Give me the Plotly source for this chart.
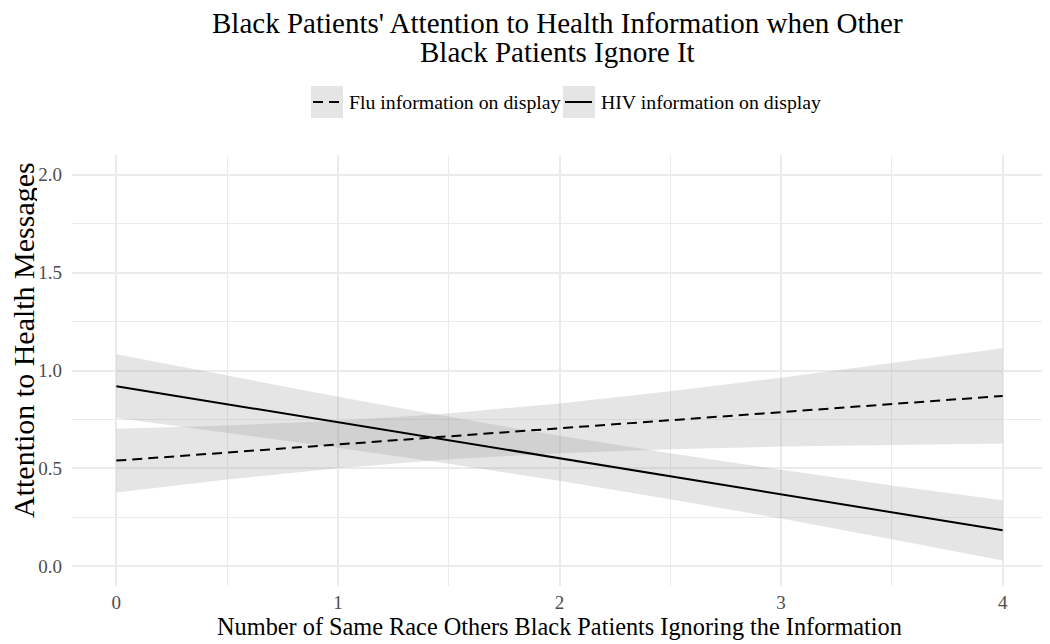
import plotly.graph_objects as go

# ---- data ----
x_vals = [0, 0.5, 1, 1.5, 2, 2.5, 3, 3.5, 4]

flu_fit = [0.54, 0.581, 0.6225, 0.664, 0.705, 0.746, 0.7875, 0.829, 0.87]
flu_upper = [0.703, 0.719, 0.744, 0.781, 0.832, 0.894, 0.963, 1.037, 1.113]
flu_lower = [0.377, 0.443, 0.501, 0.547, 0.578, 0.598, 0.612, 0.621, 0.627]

hiv_fit = [0.92, 0.828, 0.736, 0.644, 0.552, 0.46, 0.368, 0.276, 0.184]
hiv_upper = [1.083, 0.973, 0.866, 0.764, 0.667, 0.577, 0.493, 0.413, 0.338]
hiv_lower = [0.757, 0.683, 0.606, 0.524, 0.437, 0.343, 0.244, 0.139, 0.030]

series_names = ["Flu information on display", "HIV information on display"]
x_ticks = [0, 1, 2, 3, 4]
y_ticks = [0.0, 0.5, 1.0, 1.5, 2.0]
y_tick_labels = ["0.0", "0.5", "1.0", "1.5", "2.0"]

title_lines = ["Black Patients' Attention to Health Information when Other",
               "Black Patients Ignore It"]
x_title = "Number of Same Race Others Black Patients Ignoring the Information"
y_title = "Attention to Health Messages"

# ---- styling ----
FONT = "Liberation Serif, Times New Roman, serif"
BAND = "rgba(153,153,153,0.25)"
GRID = "#ebebeb"
OFF = 8  # default page body margin
W, H = 1050 - OFF, 644 - OFF
ML, MR, MT, MB = 64, 3, 147, 58
PW, PH = W - ML - MR, H - MT - MB


def px_x(px):
    # page pixel -> paper fraction
    return (px - OFF - ML) / PW


def px_y(py):
    return (H - MB - (py - OFF)) / PH


fig = go.Figure()

for lo, up in [(flu_lower, flu_upper), (hiv_lower, hiv_upper)]:
    fig.add_trace(go.Scatter(x=x_vals, y=lo, mode="lines", line=dict(width=0),
                             showlegend=False, hoverinfo="skip"))
    fig.add_trace(go.Scatter(x=x_vals, y=up, mode="lines", line=dict(width=0),
                             fill="tonexty", fillcolor=BAND,
                             showlegend=False, hoverinfo="skip"))

fig.add_trace(go.Scatter(x=x_vals, y=flu_fit, mode="lines", name=series_names[0],
                         line=dict(color="black", width=2, dash="10px,6px"),
                         showlegend=False))
fig.add_trace(go.Scatter(x=x_vals, y=hiv_fit, mode="lines", name=series_names[1],
                         line=dict(color="black", width=2),
                         showlegend=False))

# ---- manual ggplot-style legend ----
legend_items = [
    (311, 343, series_names[0], "10px,6px"),
    (563, 595, series_names[1], "solid"),
]
shapes = []
annotations = []
for x0, x1, label, dash in legend_items:
    shapes.append(dict(type="rect", xref="paper", yref="paper",
                       x0=px_x(x0), x1=px_x(x1), y0=px_y(118), y1=px_y(86),
                       fillcolor="#e5e5e5", line=dict(width=0), layer="below"))
    shapes.append(dict(type="line", xref="paper", yref="paper",
                       x0=px_x(x0 + 2), x1=px_x(x1 - 3), y0=px_y(102), y1=px_y(102),
                       line=dict(color="black", width=2, dash=dash)))
    annotations.append(dict(xref="paper", yref="paper", x=px_x(x1 + 4), y=px_y(102),
                            text=label, showarrow=False, xanchor="left", yanchor="middle",
                            font=dict(family=FONT, size=19.8, color="black")))

# ---- title (two tightly spaced lines) ----
for text, cy in zip(title_lines, [23, 52]):
    annotations.append(dict(xref="paper", yref="paper", x=px_x(557), y=px_y(cy),
                            text=text, showarrow=False, xanchor="center", yanchor="middle",
                            font=dict(family=FONT, size=29, color="black")))

# ---- y axis title ----
annotations.append(dict(xref="paper", yref="paper", x=px_x(23), y=px_y(340),
                        text=y_title, textangle=-90, showarrow=False,
                        xanchor="center", yanchor="middle", height=28, borderpad=0,
                        font=dict(family=FONT, size=30, color="black")))

fig.update_layout(
    width=W, height=H,
    margin=dict(l=ML, r=MR, t=MT, b=MB),
    plot_bgcolor="white", paper_bgcolor="white",
    font=dict(family=FONT, color="black"),
    shapes=shapes,
    annotations=annotations,
    showlegend=False,
)

fig.update_xaxes(
    range=[-0.2, 4.2], tickvals=x_ticks, ticktext=[str(v) for v in x_ticks],
    showgrid=True, gridcolor=GRID, gridwidth=1.6,
    minor=dict(dtick=0.5, showgrid=True, gridcolor=GRID, gridwidth=0.8),
    zeroline=False, showline=False, ticks="", automargin=False,
    ticklabelstandoff=3,
    tickfont=dict(family=FONT, size=19, color="#4d4d4d"),
    title=dict(text=x_title, font=dict(family=FONT, size=24.3, color="black"), standoff=5),
)
fig.update_yaxes(
    range=[-0.1, 2.1], tickvals=y_ticks, ticktext=y_tick_labels,
    showgrid=True, gridcolor=GRID, gridwidth=1.6,
    minor=dict(dtick=0.25, showgrid=True, gridcolor=GRID, gridwidth=0.8),
    zeroline=False, showline=False, ticks="", automargin=False,
    ticklabelstandoff=9,
    tickfont=dict(family=FONT, size=19, color="#4d4d4d"),
)

fig.write_html("out.html")
